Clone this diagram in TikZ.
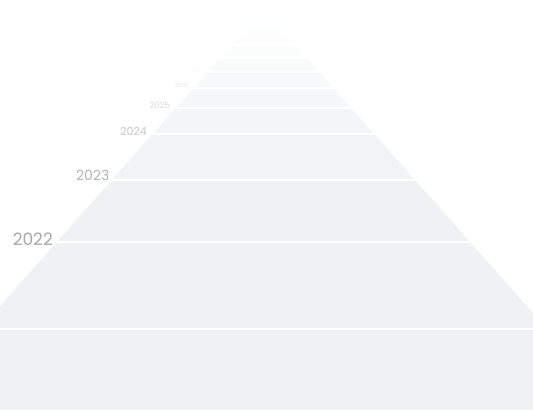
\documentclass[tikz,border=0pt]{standalone}
\usepackage{fontspec}
\setmainfont{Poppins}
\usetikzlibrary{positioning}
\definecolor{road}{HTML}{F0F1F4}
\definecolor{yearlabel}{HTML}{A6A7AB}

\begin{document}
\begin{tikzpicture}[x=1pt, y=-1pt,
    gap/.style={draw=white, line width=2pt},
    year/.style 2 args={anchor=east, inner sep=0pt, font=\fontsize{#1}{#1}\selectfont, text=yearlabel!#2!white}
  ]
  \useasboundingbox (0,0) rectangle (533,410);
  \begin{scope}
    \clip (0,410) -- (0,306) -- (263.5,9) -- (533,313) -- (533,410) -- cycle;
    \foreach \top/\bot/\shade in {0/19/3, 19/26/6, 26/34/10, 34/45/16, 45/58/24, 58/72/34,
                                  72/88/46, 88/108/60, 108/134/74, 134/180/88, 180/410/100}
      \fill[road!\shade!white] (0,\top) rectangle (533,\bot);
  \end{scope}
  \foreach \y in {329,242,180,134,108,88,72,58,45,34,26,19}
    \draw[gap] (0,\y) -- (533,\y);

  \node[year={17}{100}] (y2022) at (53,239.5) {2022};
  \node[year={14}{85}] (y2023) at (109.5,175.5) {2023};
  \node[year={11}{65}] (y2024) at (147,131.5) {2024};
  \node[year={8.5}{45}] (y2025) at (170,105.5) {2025};
  \node[year={5.8}{28}] (y2026) at (189,85.5) {2026};
  \node[year={3}{15}] (y2027) at (202,70.5) {2027};
\end{tikzpicture}
\end{document}
